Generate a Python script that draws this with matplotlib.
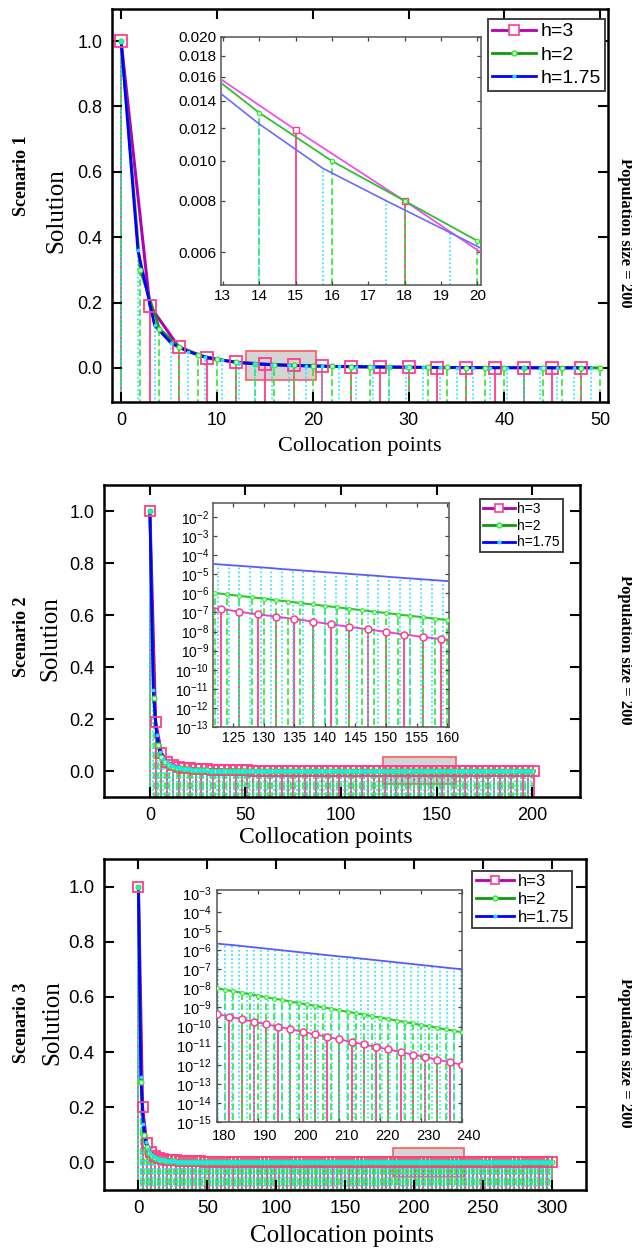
import numpy as np
import matplotlib
matplotlib.use("Agg")
import matplotlib.pyplot as plt
from matplotlib.lines import Line2D
from matplotlib.patches import Rectangle
from matplotlib import ticker, transforms

plt.rcParams["font.family"] = ["Liberation Sans", "DejaVu Sans"]
plt.rcParams["mathtext.fontset"] = "custom"
plt.rcParams["mathtext.rm"] = "Liberation Sans"
plt.rcParams["mathtext.it"] = "Liberation Sans:italic"
plt.rcParams["mathtext.bf"] = "Liberation Sans:bold"

W, H = 632, 1252

# step sizes of the three collocation grids (x = k*h)
h_vals = [3, 2, 1.75]
h_labels = ["h=3", "h=2", "h=1.75"]

# Scenario 1 : solution at every collocation point
s1_h3 = [1.0, 0.19, 0.065, 0.030, 0.018, 0.0119, 0.0080, 0.0053, 0.0038, 0.0028,
         0.0020, 0.0015, 0.0011, 0.0008, 0.0006, 0.0005, 0.0004]
s1_h2 = [1.0, 0.30, 0.12, 0.065, 0.040, 0.027, 0.018, 0.0131, 0.0100, 0.0080,
         0.0064, 0.0052, 0.0042, 0.0034, 0.0028, 0.0023, 0.0019, 0.0016, 0.0013,
         0.0011, 0.0009, 0.0008, 0.0007, 0.0006, 0.0005, 0.0004]
s1_h175 = [1.0, 0.36, 0.13, 0.075, 0.050, 0.034, 0.024, 0.0163, 0.0123, 0.0096,
           0.0080, 0.0067, 0.0056, 0.0047, 0.0040, 0.0034, 0.0029, 0.0025, 0.0021,
           0.0018, 0.0015, 0.0013, 0.0011, 0.0010, 0.0008, 0.0007, 0.0006, 0.0005,
           0.0004]
s1_npts = [17, 26, 29]

# Scenario 2 : leading values, the rest of the points sit on 0.0
s2_h3 = [1.0, 0.19, 0.07, 0.035, 0.022, 0.016, 0.012, 0.010, 0.008, 0.007, 0.006,
         0.005, 0.005, 0.004, 0.004, 0.004, 0.003, 0.003]
s2_h2 = [1.0, 0.28, 0.10, 0.055, 0.035, 0.024, 0.017, 0.013, 0.010, 0.008, 0.0065,
         0.0053, 0.0044, 0.0037, 0.0031, 0.0026]
s2_h175 = [1.0, 0.31, 0.14, 0.075, 0.048, 0.033, 0.024, 0.018, 0.014, 0.011, 0.009,
           0.007, 0.006, 0.005, 0.004, 0.0035, 0.003]
s2_npts = [68, 101, 115]

# Scenario 3
s3_h3 = [1.0, 0.20, 0.07, 0.037, 0.023, 0.016, 0.012, 0.010, 0.008, 0.007, 0.006,
         0.005, 0.005, 0.004, 0.004, 0.004, 0.003, 0.003]
s3_h2 = [1.0, 0.29, 0.10, 0.055, 0.035, 0.024, 0.017, 0.013, 0.010, 0.008, 0.0065,
         0.0053, 0.0044, 0.0037, 0.0031, 0.0026]
s3_h175 = [1.0, 0.31, 0.14, 0.075, 0.048, 0.033, 0.024, 0.018, 0.014, 0.011, 0.009,
           0.007, 0.006, 0.005, 0.004, 0.0035, 0.003]
s3_npts = [101, 151, 172]

# zoomed tails (log10 of the solution), first index k0 of each grid
z2_k0 = [40, 60, 69]
z2_h3 = [-6.69, -6.82, -6.96, -7.10, -7.22, -7.34, -7.48, -7.62, -7.76, -7.88,
         -8.02, -8.16, -8.28, -8.40, -8.53]
z2_h2 = [-5.91, -5.98, -6.06, -6.13, -6.21, -6.28, -6.36, -6.43, -6.51, -6.58,
         -6.66, -6.73, -6.81, -6.88, -6.96, -7.03, -7.11, -7.18, -7.25, -7.33,
         -7.40, -7.47]
z2_h175 = [-4.44, -4.48, -4.52, -4.56, -4.60, -4.64, -4.68, -4.73, -4.77, -4.81,
           -4.85, -4.89, -4.93, -4.97, -5.01, -5.05, -5.09, -5.14, -5.18, -5.22,
           -5.26, -5.30, -5.34, -5.38, -5.42]

z3_k0 = [59, 89, 102]
z3_h3 = [-9.22, -9.35, -9.48, -9.61, -9.75, -9.88, -10.01, -10.14, -10.28, -10.41,
         -10.54, -10.67, -10.81, -10.94, -11.07, -11.20, -11.34, -11.47, -11.60,
         -11.73, -11.87, -12.00, -12.13]
z3_h2 = [-7.92, -8.00, -8.08, -8.15, -8.23, -8.31, -8.38, -8.46, -8.54, -8.61,
         -8.69, -8.77, -8.84, -8.92, -9.00, -9.07, -9.15, -9.23, -9.30, -9.38,
         -9.46, -9.53, -9.61, -9.69, -9.76, -9.84, -9.92, -9.99, -10.07, -10.15,
         -10.22, -10.30, -10.38]
z3_h175 = [-5.62, -5.66, -5.70, -5.73, -5.77, -5.81, -5.85, -5.89, -5.93, -5.97,
           -6.01, -6.05, -6.09, -6.13, -6.17, -6.21, -6.25, -6.29, -6.33, -6.36,
           -6.40, -6.44, -6.48, -6.52, -6.56, -6.60, -6.64, -6.68, -6.72, -6.76,
           -6.80, -6.84, -6.88, -6.92, -6.96, -6.99, -7.03]

# colours
pink = "#ff3d8b"
mag_line = "#b400b4"
grn_line = "#0f9a0f"
grn_stem = "#2ee82e"
blu_line = "#0000ff"
cyan = "#1ee4ff"
serif = ["Liberation Serif", "DejaVu Serif"]


def px_box(l, t, r, b):
    return [l / W, 1 - b / H, (r - l) / W, (b - t) / H]


fig = plt.figure(figsize=(W / 100, H / 100), dpi=100)


def stems(ax, x, y, bottom, lw=1.2):
    ax.vlines(x[0], bottom, y[0], colors=pink, linestyles="solid", lw=lw + 0.1, zorder=1)
    ax.vlines(x[1], bottom, y[1], colors=grn_stem, linestyles=(0, (4, 2)), lw=lw, zorder=1)
    ax.vlines(x[2], bottom, y[2], colors=cyan, linestyles=(0, (1, 1.5)), lw=lw, zorder=1)


def main_panel(box, ys, npts, xlim, ylim, xticks, ms, fs, leg_fs, leg_anchor,
               leg_space, rect):
    ax = fig.add_axes(px_box(*box))
    xs, vals = [], []
    for h, y, n in zip(h_vals, ys, npts):
        xs.append(h * np.arange(n))
        vals.append(np.r_[y, np.zeros(n - len(y))])
    stems(ax, xs, vals, -0.3)
    ax.plot(xs[0], vals[0], color=mag_line, lw=2.2, zorder=3)
    ax.plot(xs[1], vals[1], color=grn_line, lw=2.0, zorder=3)
    ax.plot(xs[2], vals[2], color=blu_line, lw=2.0, zorder=3)
    ax.plot(xs[0], vals[0], ls="none", marker="s", ms=ms, mfc="none", mec=pink,
            mew=1.3, zorder=4)
    ax.plot(xs[1], vals[1], ls="none", marker="o", ms=3.5, mfc="#c8ffc8",
            mec=grn_stem, mew=0.9, zorder=4)
    ax.plot(xs[2], vals[2], ls="none", marker=".", ms=3.5, color=cyan, zorder=4)
    ax.add_patch(Rectangle((rect[0], rect[1]), rect[2] - rect[0], rect[3] - rect[1],
                           fc="#d4d4d4", ec="#ff5a5a", lw=1.2, zorder=0.5))
    ax.set_xlim(*xlim)
    ax.set_ylim(*ylim)
    ax.set_xticks(xticks)
    ax.set_yticks(np.arange(0, 1.01, 0.2))
    ax.yaxis.set_major_formatter(ticker.FormatStrFormatter("%.1f"))
    ax.tick_params(direction="in", length=7, width=1.5, top=True, right=True,
                   labelsize=fs, pad=7)
    for sp in ax.spines.values():
        sp.set_linewidth(1.8)
    handles = [
        Line2D([], [], color=mag_line, lw=2, marker="s", ms=ms * 0.9, mfc="white",
               mec=pink, mew=1.2),
        Line2D([], [], color=grn_line, lw=2, marker="o", ms=3.5, mfc="#c8ffc8",
               mec=grn_stem),
        Line2D([], [], color=blu_line, lw=2, marker=".", ms=4, mfc=cyan, mec=cyan),
    ]
    leg = ax.legend(handles, h_labels, loc="upper right", bbox_to_anchor=leg_anchor,
                    borderaxespad=0, fontsize=leg_fs, fancybox=False, framealpha=1,
                    edgecolor="#333333", handlelength=2.3, handletextpad=0.2,
                    labelspacing=leg_space, borderpad=0.2, numpoints=1)
    leg.get_frame().set_linewidth(1.3)
    leg.set_zorder(6)
    return ax


def inset_frame(ax, fs, ypad=3, xpad=3):
    for sp in ax.spines.values():
        sp.set_linewidth(1.1)
        sp.set_color("#555555")
    ax.tick_params(direction="in", length=3, width=0.9, top=True, right=True,
                   labelsize=fs, color="#444444")
    ax.tick_params(axis="y", pad=ypad)
    ax.tick_params(axis="x", pad=xpad)
    ax.yaxis.set_minor_locator(ticker.NullLocator())
    ax.set_zorder(5)


# ---------------- Scenario 1
ax1 = main_panel((112, 9, 608, 402), [s1_h3, s1_h2, s1_h175], s1_npts,
                 (-0.95, 50.8), (-0.104, 1.098), np.arange(0, 51, 10), 8.5, 13,
                 14, (0.993, 0.975), 0.3, (13, -0.038, 20.3, 0.053))

in1 = fig.add_axes(px_box(221, 37, 481, 285))
x1 = [h * np.arange(n) for h, n in zip(h_vals, s1_npts)]
y1 = [np.array(s1_h3), np.array(s1_h2), np.array(s1_h175)]
stems(in1, x1, y1, 1e-4, lw=1.2)
in1.plot(x1[0], y1[0], color="#f050f0", lw=1.3, marker="s", ms=4.5, mfc="white",
         mec=pink, mew=1.0, zorder=3)
in1.plot(x1[1], y1[1], color="#30c030", lw=1.3, marker="o", ms=3.2, mfc="#c8ffc8",
         mec=grn_stem, mew=0.8, zorder=3)
in1.plot(x1[2], y1[2], color="#6a6aff", lw=1.2, zorder=3)
in1.set_yscale("log")
in1.set_xlim(12.95, 20.1)
in1.set_ylim(0.005, 0.020)
in1.yaxis.set_major_locator(ticker.FixedLocator(np.arange(0.006, 0.0201, 0.002)))
in1.yaxis.set_major_formatter(ticker.FormatStrFormatter("%.3f"))
in1.set_xticks(np.arange(13, 21, 1))
inset_frame(in1, 11)

# ---------------- Scenario 2
ax2 = main_panel((104, 485, 580, 797), [s2_h3, s2_h2, s2_h175], s2_npts,
                 (-24, 225), (-0.1, 1.1), np.arange(0, 201, 50), 6.5, 13,
                 10, (0.964, 0.955), 0.2, (122, -0.049, 160, 0.055))


def log_inset(box, k0s, zs, xlim, ylim, xticks, fs, ypad, xpad):
    ax = fig.add_axes(px_box(*box))
    xs = [h * (k + np.arange(len(z))) for h, k, z in zip(h_vals, k0s, zs)]
    ys = [10.0 ** np.array(z) for z in zs]
    stems(ax, xs, ys, ylim[0] / 100, lw=1.2)
    ax.plot(xs[2], ys[2], color="#5a5aff", lw=1.3, zorder=3)
    ax.plot(xs[1], ys[1], color="#2ec82e", lw=1.5, marker="o", ms=2.8,
            mfc="#c8ffc8", mec=grn_stem, mew=0.7, zorder=3)
    ax.plot(xs[0], ys[0], color="#e040e0", lw=1.3, marker="o", ms=5, mfc="white",
            mec=pink, mew=1.1, zorder=3)
    ax.set_yscale("log")
    ax.set_xlim(*xlim)
    ax.set_ylim(*ylim)
    ax.yaxis.set_major_locator(ticker.LogLocator(base=10, numticks=30))
    ax.set_xticks(xticks)
    inset_frame(ax, fs, ypad, xpad)
    return ax


in2 = log_inset((213, 503, 449, 727), z2_k0, [z2_h3, z2_h2, z2_h175],
                (121.7, 160.3), (1e-13, 10 ** -1.27), np.arange(125, 161, 5),
                10, 3, 3)

# ---------------- Scenario 3
ax3 = main_panel((104, 859, 586, 1190), [s3_h3, s3_h2, s3_h175], s3_npts,
                 (-25, 325), (-0.1, 1.1), np.arange(0, 301, 50), 7, 13.5,
                 12, (0.971, 0.965), 0.18, (185, -0.053, 236.7, 0.052))

in3 = log_inset((217, 890, 462, 1122), z3_k0, [z3_h3, z3_h2, z3_h175],
                (180, 240), (1e-15, 10 ** -2.85), np.arange(180, 241, 10),
                10.5, 4, 5)
# x labels of this zoom sit a little to the right of their ticks
shift = transforms.ScaledTranslation(7 / 100, 0, fig.dpi_scale_trans)
for lab in in3.get_xticklabels():
    lab.set_transform(lab.get_transform() + shift)

# ---------------- labels
for (xl, yl, fsz), (sx, sy), (ly_x, ly_y), (py, sc) in zip(
        [(360, 447, 16), (326, 837, 17), (342, 1236, 18)],
        [(22, 176), (22, 637), (22, 1023)],
        [(56, 211), (50, 639), (52, 1023)],
        [(233, "Scenario 1"), (650, "Scenario 2"), (1053, "Scenario 3")]):
    fig.text(xl / W, 1 - yl / H, "Collocation points", family=serif, fontsize=fsz,
             ha="center", va="center")
    fig.text(ly_x / W, 1 - ly_y / H, "Solution", family=serif, fontsize=18,
             rotation=90, ha="center", va="center")
    fig.text(sx / W, 1 - sy / H, sc, family=serif, fontsize=13, weight="bold",
             rotation=90, ha="center", va="center")
    fig.text(625 / W, 1 - py / H, "Population size = 200", family=serif,
             fontsize=12, weight="bold", rotation=-90, ha="center", va="center")

fig.savefig("out.png", dpi=100)
